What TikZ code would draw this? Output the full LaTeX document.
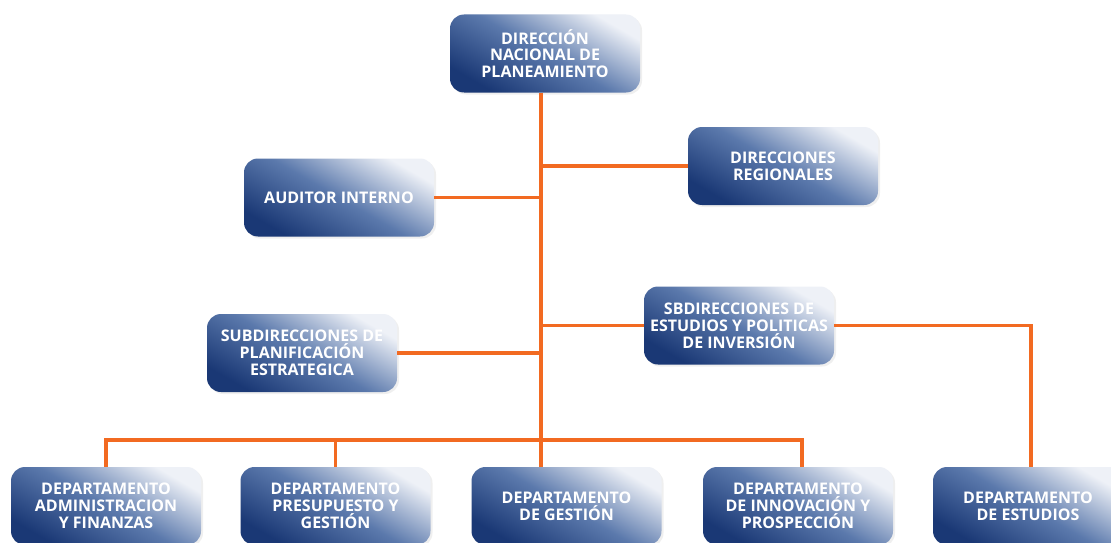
\documentclass[tikz,border=0pt]{standalone}
\usepackage{fontspec}
\setmainfont{Open Sans}
\usetikzlibrary{shadows}
\definecolor{bxdark}{HTML}{1A3875}
\definecolor{bxmid}{HTML}{5B79AC}
\definecolor{bxlight}{HTML}{EEF1F7}
\definecolor{conn}{HTML}{F26A21}
\tikzset{
  orgbox/.style={rounded corners=14pt, minimum width=190pt, minimum height=78pt,
    inner sep=2pt, align=center, text=white,
    font=\fontsize{16}{16.8}\selectfont\bfseries,
    top color=bxlight, bottom color=bxdark, middle color=bxmid, shading angle=-30,
    drop shadow={opacity=0.12, shadow xshift=2pt, shadow yshift=-2pt}},
  link/.style={draw=conn, line width=3.8pt}
}
\begin{document}
\begin{tikzpicture}[x=1pt,y=-1pt]
\useasboundingbox (0,0) rectangle (1111,543);
\fill[white] (0,0) rectangle (1111,543);
% nodes
\node[orgbox] (dnp) at (545,53.5) {DIRECCIÓN\\NACIONAL DE\\PLANEAMIENTO};
\node[orgbox] (dreg) at (783,166) {DIRECCIONES\\REGIONALES};
\node[orgbox] (aud) at (339,197.5) {AUDITOR INTERNO};
\node[orgbox] (sbd) at (739,325.5) {SBDIRECCIONES DE\\ESTUDIOS Y POLITICAS\\DE INVERSIÓN};
\node[orgbox] (spe) at (302,353) {SUBDIRECCIONES DE\\PLANIFICACIÓN\\ESTRATEGICA};
\node[orgbox] (d1) at (106,506) {DEPARTAMENTO\\ADMINISTRACION\\Y FINANZAS};
\node[orgbox] (d2) at (335.5,506) {DEPARTAMENTO\\PRESUPUESTO Y\\GESTIÓN};
\node[orgbox] (d3) at (566.5,506) {DEPARTAMENTO\\DE GESTIÓN};
\node[orgbox] (d4) at (798,506) {DEPARTAMENTO\\DE INNOVACIÓN Y\\PROSPECCIÓN};
\node[orgbox] (d5) at (1028,506) {DEPARTAMENTO\\DE ESTUDIOS};
% connectors
\coordinate (bus) at (541,440);
\draw[link] (dnp.south -| bus) -- (bus);
\draw[link] (dreg.west) -- (dreg.west -| bus);
\draw[link] (aud.east) -- (aud.east -| bus);
\draw[link] (sbd.west) -- (sbd.west -| bus);
\draw[link] (spe.east) -- (spe.east -| bus);
\draw[link] (sbd.east) -| ([xshift=3pt]d5.north);
\draw[link] (d1.north) |- (bus);
\draw[link] (bus) -| ([xshift=4pt]d4.north);
\draw[link] (d2.north) -- (d2.north |- bus);
\draw[link] (bus) -- (bus |- d3.north);
\end{tikzpicture}
\end{document}
